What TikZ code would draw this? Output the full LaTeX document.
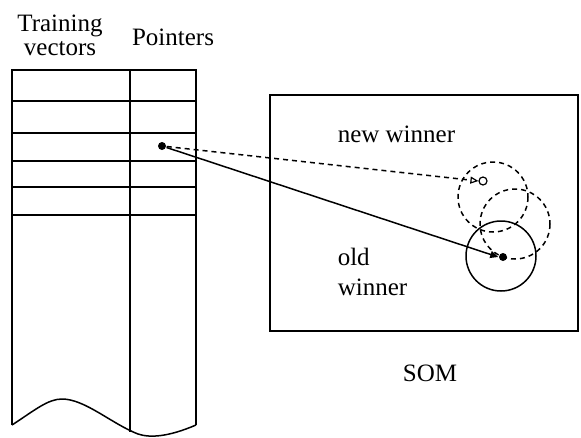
\documentclass[tikz,border=0pt]{standalone}
\usepackage{fontspec}
\setmainfont{Liberation Serif}
\usetikzlibrary{arrows.meta}
\begin{document}
\begin{tikzpicture}[x=1pt,y=-1pt,line width=1.5pt,
  lbl/.style={font=\fontsize{25}{26}\selectfont,inner sep=0pt,anchor=base},
  lblw/.style={lbl,anchor=base west},
  dsh/.style={dash pattern=on 5pt off 4pt},
  fdot/.style={circle,fill=black,inner sep=0pt,minimum size=8pt},
  odot/.style={circle,draw,line width=1.2pt,inner sep=0pt,minimum size=8pt}]
\useasboundingbox (0,0) rectangle (581,437);
% column headings
\node[lbl] (t1) at (60,31) {Training};
\node[lbl] (t2) at (60,55) {vectors};
\node[lbl] (ptr) at (173,45) {Pointers};
% table
\draw (12,425) -- (12,70) -- (196,70) -- (196,425);
\draw (130,70) -- (130,432);
\foreach \yy in {101,133,161,187,215} \draw (12,\yy) -- (196,\yy);
\draw (12,425) .. controls (35,410) and (48,399) .. (62,399)
  .. controls (85,399) and (112,424) .. (138,434)
  .. controls (150,438) and (168,437) .. (196,425);
% SOM
\draw (270,95) rectangle (578,331);
\node[lblw] (nwl) at (337,142) {new winner};
\node[lblw] (ol1) at (337,265) {old};
\node[lblw] (ol2) at (337,295) {winner};
\node[lbl] (som) at (430,381) {SOM};
% neighbourhoods
\draw (501,256) circle (35);
\draw[dsh] (493,197) circle (35);
\draw[dsh] (515,224) circle (35);
% points
\node[fdot] (p) at (162,146) {};
\node[odot] (nw) at (483,181) {};
\node[fdot] (ow) at (503,257) {};
\draw[dsh,-{Triangle[open,length=8pt,width=7pt,line width=1.2pt]}] (p) -- (nw.west);
\draw[-{Triangle[length=8pt,width=7pt]}] (p) -- (ow.west);
\end{tikzpicture}
\end{document}
